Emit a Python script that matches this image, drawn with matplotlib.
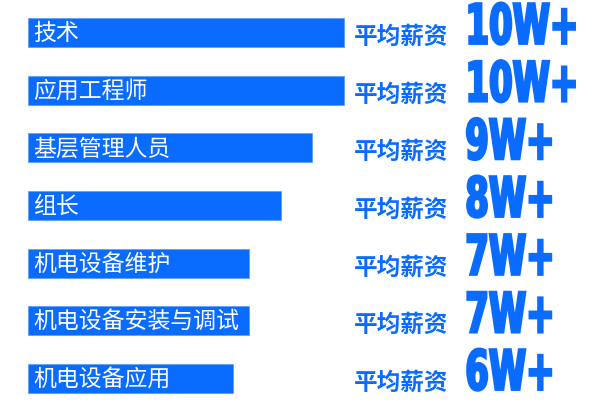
import matplotlib
matplotlib.use("Agg")
import matplotlib.pyplot as plt
from matplotlib.patheffects import AbstractPathEffect
from matplotlib.transforms import Affine2D, ScaledTranslation, blended_transform_factory

plt.rcParams['font.family'] = ['Noto Sans CJK SC', 'DejaVu Sans']

# Job categories, bar lengths and the average salary shown beside each bar
categories = ["技术", "应用工程师", "基层管理人员", "组长",
              "机电设备维护", "机电设备安装与调试", "机电设备应用"]
bar_values = [100, 100, 90, 80, 70, 70, 65]
salary_labels = ["10W+", "10W+", "9W+", "8W+", "7W+", "7W+", "6W+"]
salary_caption = "平均薪资"

BLUE = "#0a6cff"


class Condense(AbstractPathEffect):
    """Draw text squeezed horizontally and stretched vertically, with a
    thin outline to thicken the strokes."""

    def __init__(self, sx=0.7, sy=1.3, lw=1.0):
        super().__init__()
        self.sx, self.sy, self.lw = sx, sy, lw

    def draw_path(self, renderer, gc, tpath, affine, rgbFace=None):
        ext = tpath.get_extents(affine)
        x0, y0 = ext.x0, ext.y0
        tr = affine + Affine2D().translate(-x0, -y0).scale(self.sx, self.sy).translate(x0, y0)
        gc0 = renderer.new_gc()
        gc0.copy_properties(gc)
        gc0.set_linewidth(self.lw)
        gc0.set_foreground(rgbFace)
        gc0.set_joinstyle("miter")
        renderer.draw_path(gc0, tpath, tr, rgbFace)
        gc0.restore()


W, H, DPI = 601, 413, 100
fig = plt.figure(figsize=(W / DPI, H / DPI), dpi=DPI)
ax = fig.add_axes([0, 0, 1, 1])

px_per_unit = 3.16
left_px = 28
ax.set_xlim(-left_px / px_per_unit, (W - left_px) / px_per_unit)
row_px = 57.67
top_px = 32.5
ax.set_ylim((H - top_px) / row_px, -top_px / row_px)
ax.axis("off")

ypos = list(range(len(categories)))
ax.barh(ypos, bar_values, height=0.5, left=0, color=BLUE,
        edgecolor="#5fa0ff", linewidth=0.6)

label_shift = ScaledTranslation(5 / DPI, -1 / DPI, fig.dpi_scale_trans)
col = blended_transform_factory(ax.transAxes, ax.transData)
cap_shift = ScaledTranslation(0, -4 / DPI, fig.dpi_scale_trans)
big_shift = ScaledTranslation(0, 3 / DPI, fig.dpi_scale_trans)

for y, name, sal in zip(ypos, categories, salary_labels):
    ax.text(0, y, name, transform=ax.transData + label_shift,
            color="white", fontsize=16.5, va="center", ha="left")
    ax.text(354 / W, y, salary_caption, transform=col + cap_shift,
            color=BLUE, fontsize=17, fontweight="bold", va="center", ha="left")
    ax.text(465 / W, y + 0.25, sal, transform=col + big_shift,
            color=BLUE, fontsize=28, fontweight="bold", va="baseline", ha="left",
            family=["DejaVu Sans"],
            path_effects=[Condense(sx=0.87, sy=1.42, lw=1.8)])

fig.savefig("out.png", dpi=DPI, facecolor="white")
